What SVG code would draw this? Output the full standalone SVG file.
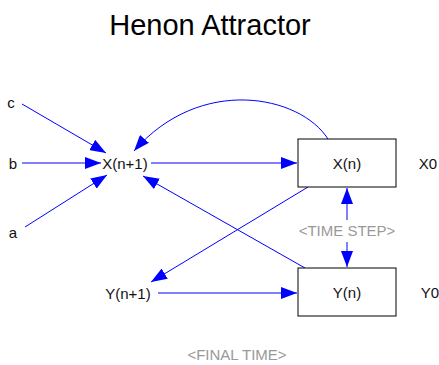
<svg xmlns="http://www.w3.org/2000/svg" width="439" height="365" viewBox="0 0 439 365">
<style>
text{font-family:"Liberation Sans",Arial,sans-serif;font-size:15px;fill:#111}
.t{font-size:29px;fill:#000}
.g{fill:#999}
.e{fill:none;stroke:#0000ff;stroke-width:1}
.box{fill:#fff;stroke:#000;stroke-width:1}
</style>
<defs>
<marker id="ah" viewBox="0 0 16 12" refX="16" refY="6" markerWidth="16" markerHeight="12" markerUnits="userSpaceOnUse" orient="auto">
<path d="M0,0 L16,6 L0,12 Z" fill="#0000ff"/>
</marker>
</defs>
<rect width="439" height="365" fill="#fff"/>
<text class="t" x="210" y="35" text-anchor="middle">Henon Attractor</text>
<g id="connectors">
<path class="e" marker-end="url(#ah)" d="M22,104 L106,153"/>
<path class="e" marker-end="url(#ah)" d="M22,163 L101,163"/>
<path class="e" marker-end="url(#ah)" d="M25,227 L107,175"/>
<path class="e" marker-end="url(#ah)" d="M151,163 L297,163"/>
<path class="e" marker-end="url(#ah)" d="M328,139 C300,95 200,75 134,151"/>
<path class="e" marker-end="url(#ah)" d="M305,268 L143,176"/>
<path class="e" marker-end="url(#ah)" d="M308,187 L151,282"/>
<path class="e" marker-end="url(#ah)" d="M158,293 L297,293"/>
<path class="e" marker-end="url(#ah)" d="M347,220 L347,188"/>
<path class="e" marker-end="url(#ah)" d="M347,242 L347,267"/>
</g>
<g id="c"><text x="11" y="108" text-anchor="middle">c</text></g>
<g id="b"><text x="13" y="169" text-anchor="middle">b</text></g>
<g id="a"><text x="13" y="238" text-anchor="middle">a</text></g>
<g id="xn1"><text x="125" y="169" text-anchor="middle">X(n+1)</text></g>
<g id="yn1"><text x="128" y="299" text-anchor="middle">Y(n+1)</text></g>
<g id="xn"><rect class="box" x="298" y="139" width="98" height="48"/><text x="347" y="169" text-anchor="middle">X(n)</text></g>
<g id="yn"><rect class="box" x="298" y="268" width="98" height="48"/><text x="347" y="298" text-anchor="middle">Y(n)</text></g>
<g id="x0"><text x="428" y="169" text-anchor="middle">X0</text></g>
<g id="y0"><text x="430" y="298" text-anchor="middle">Y0</text></g>
<g id="timestep"><text class="g" x="347" y="236" text-anchor="middle">&lt;TIME STEP&gt;</text></g>
<g id="finaltime"><text class="g" x="237" y="360" text-anchor="middle">&lt;FINAL TIME&gt;</text></g>
</svg>
